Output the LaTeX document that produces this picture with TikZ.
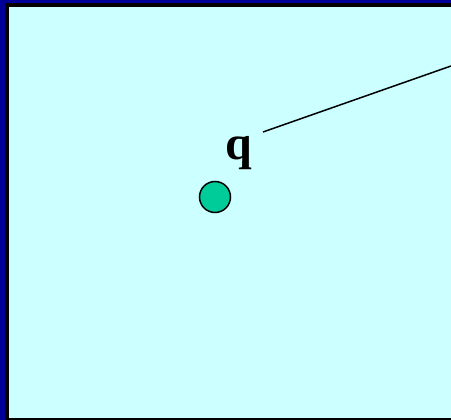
\documentclass[tikz,border=0pt]{standalone}
\usepackage{fontspec}
\setmainfont{Liberation Serif}
\usetikzlibrary{positioning}
\definecolor{frameblue}{RGB}{0,0,153}
\definecolor{fieldcyan}{RGB}{204,255,255}
\definecolor{chargegreen}{RGB}{0,204,153}

\begin{document}
\begin{tikzpicture}[x=1pt,y=-1pt,
        charge/.style={circle,draw=black,fill=chargegreen,line width=1.5pt,minimum size=31pt,inner sep=0pt},
        lbl/.style={font=\fontsize{48}{52}\selectfont\bfseries,inner sep=0pt},
        wire/.style={line width=1.5pt}]
        \useasboundingbox (0,0) rectangle (451,420);
        \fill[frameblue] (0,0) rectangle (451,420);
        \fill[black] (5,3) rectangle (451,420);
        \fill[fieldcyan] (8.5,7.5) rectangle (451,418);
        \node[charge] (q0) at (215,197) {};
        \node[lbl,anchor=base] (qlbl) at (239,160) {q};
        \coordinate (tail) at (263,132);
        \coordinate (far) at (451,66);
        \draw[wire] (tail) -- (far);
      \end{tikzpicture}
\end{document}
